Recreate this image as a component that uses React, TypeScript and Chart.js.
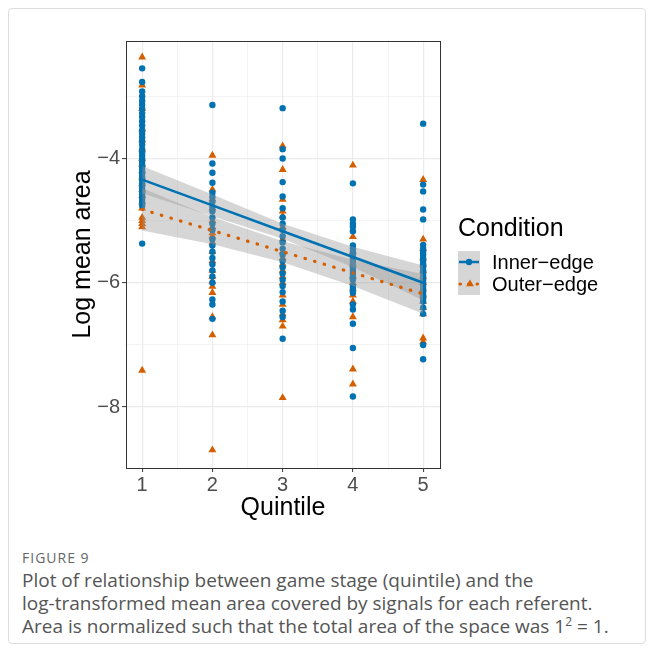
import React, { useEffect, useRef } from "react";
import { Chart, registerables } from "chart.js";

Chart.register(...registerables);

// ---- data ----
const quintiles = [1, 2, 3, 4, 5];
const xTicks = [1, 1.5, 2, 2.5, 3, 3.5, 4, 4.5, 5];
const yTicks = [-3, -4, -5, -6, -7, -8];
const seriesNames = ["Inner\u2212edge", "Outer\u2212edge"];

const innerQ1 = [-2.55, -2.77, -2.92, -3.0, -3.07, -3.13, -3.2, -3.27, -3.33, -3.4, -3.47, -3.55, -3.6, -3.66, -3.72, -3.78, -3.85, -3.9, -3.95, -4.0, -4.05, -4.1, -4.15, -4.2, -4.25, -4.3, -4.35, -4.4, -4.45, -4.5, -4.55, -4.6, -4.65, -4.7, -4.76, -5.37];
const innerQ2 = [-3.14, -4.08, -4.23, -4.39, -4.55, -4.62, -4.7, -4.78, -4.85, -4.95, -5.05, -5.15, -5.3, -5.4, -5.5, -5.6, -5.7, -5.8, -5.9, -6.0, -6.27, -6.35, -6.58];
const innerQ3 = [-3.19, -3.85, -4.0, -4.38, -4.61, -4.8, -4.95, -5.05, -5.15, -5.25, -5.35, -5.45, -5.55, -5.65, -5.75, -5.85, -5.95, -6.05, -6.15, -6.3, -6.45, -6.55, -6.9];
const innerQ4 = [-4.4, -4.98, -5.05, -5.1, -5.17, -5.4, -5.45, -5.5, -5.55, -5.6, -5.65, -5.7, -5.75, -5.8, -5.85, -5.9, -5.95, -6.05, -6.1, -6.16, -6.35, -6.43, -6.66, -7.05, -7.83];
const innerQ5 = [-3.44, -4.42, -4.53, -4.82, -4.98, -5.39, -5.45, -5.5, -5.55, -5.6, -5.65, -5.7, -5.75, -5.8, -5.85, -5.9, -5.95, -6.0, -6.05, -6.1, -6.15, -6.2, -6.25, -6.3, -6.4, -6.5, -7.0, -7.23];

const outerQ1 = [-2.37, -2.82, -3.2, -3.53, -3.7, -3.85, -4.0, -4.1, -4.2, -4.3, -4.4, -4.5, -4.6, -4.7, -4.8, -4.95, -5.0, -5.05, -5.1, -7.41];
const outerQ2 = [-3.95, -4.5, -4.65, -4.8, -5.0, -5.1, -5.2, -5.25, -5.35, -5.5, -5.65, -5.8, -5.9, -5.98, -6.06, -6.16, -6.55, -6.84, -8.69];
const outerQ3 = [-3.8, -4.18, -4.66, -4.85, -4.93, -5.1, -5.3, -5.5, -5.6, -5.7, -5.8, -5.9, -6.0, -6.2, -6.35, -6.5, -6.6, -6.7, -7.85];
const outerQ4 = [-4.11, -5.26, -5.5, -5.7, -5.9, -6.0, -6.1, -6.2, -6.3, -6.55, -7.39, -7.63];
const outerQ5 = [-4.34, -5.3, -5.45, -5.6, -5.7, -5.8, -5.9, -6.0, -6.1, -6.2, -6.3, -6.4, -6.5, -6.89, -6.95];

const innerFit = [-4.34, -4.755, -5.17, -5.585, -6.0];
const innerLo = [-4.56, -4.93, -5.29, -5.75, -6.28];
const innerHi = [-4.12, -4.58, -5.05, -5.42, -5.72];
const outerFit = [-4.82, -5.16, -5.5, -5.84, -6.18];
const outerLo = [-5.16, -5.38, -5.67, -6.05, -6.5];
const outerHi = [-4.48, -4.94, -5.33, -5.63, -5.86];

const innerByQ = [innerQ1, innerQ2, innerQ3, innerQ4, innerQ5];
const outerByQ = [outerQ1, outerQ2, outerQ3, outerQ4, outerQ5];

const BLUE = "#0072B2";
const ORANGE = "#D55E00";
const RIBBON = "rgba(153,153,153,0.4)";
const FONT = "'Liberation Sans', Arial, sans-serif";

const toPts = (groups: number[][]) =>
  groups.flatMap((arr, i) => arr.map((y) => ({ x: quintiles[i], y })));
const toLine = (vals: number[]) => vals.map((y, i) => ({ x: quintiles[i], y }));

const isMajorX = (v: number) => Number.isInteger(v);
const isMajorY = (v: number) => Number.isInteger(v) && v % 2 === 0;

const frameAndLegend = {
  id: "frameAndLegend",
  afterDraw(chart: any) {
    const { ctx, chartArea: a } = chart;
    ctx.save();
    ctx.strokeStyle = "#333333";
    ctx.lineWidth = 1;
    ctx.strokeRect(Math.round(a.left) + 0.5, Math.round(a.top) + 0.5, Math.round(a.right - a.left), Math.round(a.bottom - a.top));

    // legend
    ctx.fillStyle = "#000";
    ctx.font = `25px ${FONT}`;
    ctx.textBaseline = "middle";
    ctx.textAlign = "left";
    ctx.fillText("Condition", 458, 229);

    const kx = 458, kw = 22, ky = 251, kh = 22;
    ctx.fillStyle = "#D6D6D6";
    ctx.fillRect(kx, ky, kw, kh * 2);

    // inner key
    let cy = ky + kh / 2;
    ctx.strokeStyle = BLUE;
    ctx.lineWidth = 2.5;
    ctx.beginPath();
    ctx.moveTo(kx + 1, cy);
    ctx.lineTo(kx + kw - 1, cy);
    ctx.stroke();
    ctx.fillStyle = BLUE;
    ctx.beginPath();
    ctx.arc(kx + kw / 2, cy, 3.2, 0, Math.PI * 2);
    ctx.fill();

    // outer key
    cy = ky + kh + kh / 2;
    ctx.strokeStyle = ORANGE;
    ctx.lineWidth = 3;
    ctx.lineCap = "round";
    ctx.setLineDash([0.5, 8]);
    ctx.beginPath();
    ctx.moveTo(kx + 2, cy);
    ctx.lineTo(kx + kw - 1, cy);
    ctx.stroke();
    ctx.setLineDash([]);
    ctx.fillStyle = ORANGE;
    const r = 4.5;
    const cx = kx + kw / 2 + 1;
    ctx.beginPath();
    ctx.moveTo(cx, cy - r);
    ctx.lineTo(cx + r * 0.866, cy + r * 0.5);
    ctx.lineTo(cx - r * 0.866, cy + r * 0.5);
    ctx.closePath();
    ctx.fill();

    ctx.fillStyle = "#000";
    ctx.font = `20px ${FONT}`;
    ctx.fillText(seriesNames[0], 492, ky + kh / 2 + 1);
    ctx.fillText(seriesNames[1], 492, ky + kh + kh / 2 + 1);
    ctx.restore();
  },
};

function ChartView() {
  const ref = useRef<HTMLCanvasElement | null>(null);
  useEffect(() => {
    if (!ref.current) return;
    const chart = new Chart(ref.current, {
      type: "scatter",
      data: {
        datasets: [
          {
            label: seriesNames[0] + " fit",
            data: toLine(innerFit),
            showLine: true,
            borderColor: BLUE,
            borderWidth: 2.6,
            pointRadius: 0,
            order: 1,
          } as any,
          {
            label: seriesNames[1] + " fit",
            data: toLine(outerFit),
            showLine: true,
            borderColor: ORANGE,
            borderWidth: 3.2,
            borderDash: [0.5, 9.5],
            borderCapStyle: "round",
            pointRadius: 0,
            order: 1,
          } as any,
          {
            label: "innerLo",
            data: toLine(innerLo),
            showLine: true,
            borderWidth: 0,
            borderColor: "rgba(0,0,0,0)",
            pointRadius: 0,
            fill: false,
            order: 2,
          } as any,
          {
            label: "innerHi",
            data: toLine(innerHi),
            showLine: true,
            borderWidth: 0,
            borderColor: "rgba(0,0,0,0)",
            backgroundColor: RIBBON,
            pointRadius: 0,
            fill: "-1",
            order: 2,
          } as any,
          {
            label: "outerLo",
            data: toLine(outerLo),
            showLine: true,
            borderWidth: 0,
            borderColor: "rgba(0,0,0,0)",
            pointRadius: 0,
            fill: false,
            order: 2,
          } as any,
          {
            label: "outerHi",
            data: toLine(outerHi),
            showLine: true,
            borderWidth: 0,
            borderColor: "rgba(0,0,0,0)",
            backgroundColor: RIBBON,
            pointRadius: 0,
            fill: "-1",
            order: 2,
          } as any,
          {
            label: seriesNames[0],
            data: toPts(innerByQ),
            pointStyle: "circle",
            pointRadius: 3.2,
            backgroundColor: BLUE,
            borderWidth: 0,
            order: 3,
          } as any,
          {
            label: seriesNames[1],
            data: toPts(outerByQ),
            pointStyle: "triangle",
            pointRadius: 4.6,
            backgroundColor: ORANGE,
            borderWidth: 0,
            order: 4,
          } as any,
        ],
      },
      options: {
        animation: false,
        responsive: false,
        events: [],
        layout: { padding: { left: 0, top: 41, right: 216, bottom: 0 } },
        plugins: { legend: { display: false }, tooltip: { enabled: false } },
        scales: {
          x: {
            type: "linear",
            min: 0.77,
            max: 5.24,
            afterBuildTicks: (s: any) => {
              s.ticks = xTicks.map((v) => ({ value: v }));
            },
            afterFit: (s: any) => {
              s.height = 72;
            },
            ticks: {
              autoSkip: false,
              maxRotation: 0,
              padding: 1,
              color: "#4D4D4D",
              font: { family: FONT, size: 20 },
              callback: (v: any) => (isMajorX(Number(v)) ? String(v) : ""),
            },
            grid: {
              color: "#EBEBEB",
              lineWidth: (c: any) => (isMajorX(c.tick.value) ? 1.2 : 0.6),
              tickColor: (c: any) => (isMajorX(c.tick.value) ? "#333333" : "rgba(0,0,0,0)"),
              tickLength: 4,
              tickWidth: 1,
            },
            border: { display: false },
            title: {
              display: true,
              text: "Quintile",
              color: "#000",
              font: { family: FONT, size: 25 },
              padding: { top: 0, bottom: 17 },
            },
          },
          y: {
            type: "linear",
            min: -8.98,
            max: -2.11,
            afterBuildTicks: (s: any) => {
              s.ticks = yTicks.map((v) => ({ value: v }));
            },
            afterFit: (s: any) => {
              s.width = 126;
            },
            ticks: {
              autoSkip: false,
              padding: 2,
              color: "#4D4D4D",
              font: { family: FONT, size: 20 },
              callback: (v: any) => (isMajorY(Number(v)) ? "\u2212" + Math.abs(Number(v)) : ""),
            },
            grid: {
              color: "#EBEBEB",
              lineWidth: (c: any) => (isMajorY(c.tick.value) ? 1.2 : 0.6),
              tickColor: (c: any) => (isMajorY(c.tick.value) ? "#333333" : "rgba(0,0,0,0)"),
              tickLength: 4,
              tickWidth: 1,
            },
            border: { display: false },
            title: {
              display: true,
              text: "Log mean area",
              color: "#000",
              font: { family: FONT, size: 25 },
              padding: { top: 68, bottom: 0 },
            },
          },
        },
      },
      plugins: [frameAndLegend],
    } as any);
    return () => chart.destroy();
  }, []);
  return <canvas ref={ref} width={656} height={540} style={{ position: "absolute", left: 0, top: 0, width: 656, height: 540 }} />;
}

export default function App() {
  const capFont = "'Open Sans', 'Noto Sans', sans-serif";
  return (
    <div style={{ position: "absolute", left: 0, top: 0, width: 656, height: 653, background: "#fff", overflow: "hidden" }}>
      <div style={{ position: "absolute", left: 8, top: 8, width: 638, height: 636, border: "1px solid #DDDDDD", borderRadius: 4, boxSizing: "border-box" }} />
      <ChartView />
      <div style={{ position: "absolute", left: 22, top: 548, fontFamily: capFont, fontSize: 14, letterSpacing: 1, color: "#666666" }}>FIGURE 9</div>
      <div style={{ position: "absolute", left: 22, top: 569, width: 630, fontFamily: capFont, fontSize: 19, lineHeight: "23px", color: "#555555", whiteSpace: "nowrap" }}>
        Plot of relationship between game stage (quintile) and the
        <br />
        log-transformed mean area covered by signals for each referent.
        <br />
        Area is normalized such that the total area of the space was 1<sup style={{ fontSize: 12, lineHeight: 0 }}>2</sup>&nbsp;=&nbsp;1.
      </div>
    </div>
  );
}
